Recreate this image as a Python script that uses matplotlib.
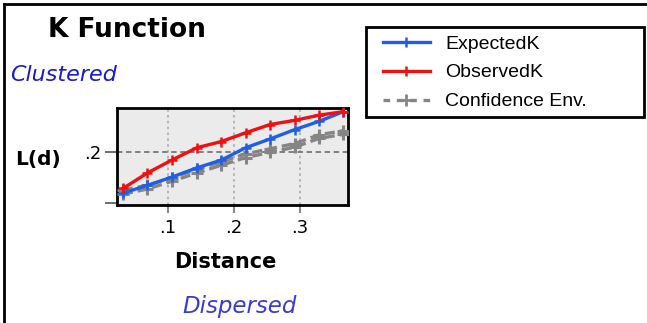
import matplotlib.pyplot as plt
from matplotlib.lines import Line2D
from matplotlib.patches import Rectangle

distance = [0.032, 0.069, 0.106, 0.144, 0.181, 0.218, 0.255, 0.292, 0.329, 0.366]
observed_k = [0.129, 0.159, 0.184, 0.208, 0.220, 0.237, 0.253, 0.261, 0.271, 0.278]
expected_k = [0.120, 0.135, 0.151, 0.169, 0.184, 0.208, 0.225, 0.243, 0.259, 0.278]
conf_upper = [0.126, 0.135, 0.150, 0.166, 0.181, 0.196, 0.206, 0.216, 0.233, 0.241]
conf_lower = [0.118, 0.128, 0.143, 0.159, 0.174, 0.189, 0.199, 0.209, 0.226, 0.234]

x_ticks = [0.1, 0.2, 0.3]
x_labels = ['.1', '.2', '.3']
y_ticks = [0.1, 0.2]
y_labels = ['', '.2']

W, H = 647, 323
fig = plt.figure(figsize=(W / 100, H / 100), dpi=100)
fig.patch.set_facecolor('white')

ax = fig.add_axes([117 / W, 1 - 205 / H, 231 / W, 97 / H])
ax.set_facecolor('#ebebeb')

blue = '#1f5fe6'
red = '#ee1111'
gray = '#858585'

ax.plot(distance, conf_lower, color=gray, lw=2.4, ls=(0, (3, 1.5)), marker='+', ms=8, mew=2.2, zorder=3)
ax.plot(distance, conf_upper, color=gray, lw=2.4, ls=(0, (3, 1.5)), marker='+', ms=8, mew=2.2, zorder=3)
ax.plot(distance, expected_k, color=blue, lw=2.4, marker='+', ms=7, mew=1.8, zorder=4)
ax.plot(distance, observed_k, color=red, lw=2.4, marker='+', ms=7, mew=1.8, zorder=5)

ax.set_xlim(0.023, 0.373)
ax.set_ylim(0.097, 0.285)
ax.set_xticks(x_ticks)
ax.set_xticklabels(x_labels, fontsize=13)
ax.set_yticks(y_ticks)
ax.set_yticklabels(y_labels, fontsize=13)
ax.tick_params(axis='x', length=6, width=1.5, color='#888888', pad=4)
ax.tick_params(axis='y', length=9, width=1.2, color='#555555', pad=2)

for x in x_ticks:
    ax.axvline(x, color='#aaaaaa', lw=1.2, ls=(0, (1.5, 2)), zorder=1)
ax.axhline(0.2, color='#777777', lw=1.3, ls=(0, (3, 2)), zorder=1)

for s in ax.spines.values():
    s.set_linewidth(2)
    s.set_color('black')

fig.text(127 / W, 1 - 30 / H, 'K Function', fontsize=19, fontweight='bold', ha='center', va='center')
fig.text(10 / W, 1 - 75 / H, 'Clustered', fontsize=16, style='italic', color='#1a1ad0', ha='left', va='center')
fig.text(15 / W, 1 - 160 / H, 'L(d)', fontsize=14.5, fontweight='bold', ha='left', va='center')
fig.text(225 / W, 1 - 262 / H, 'Distance', fontsize=15, fontweight='bold', ha='center', va='center')
fig.text(240 / W, 1 - 307 / H, 'Dispersed', fontsize=16.5, style='italic', color='#3a3ad8', ha='center', va='center')

# figure frame (top and left)
fig.add_artist(Line2D([4 / W, 1], [1 - 4 / H, 1 - 4 / H], color='black', lw=2))
fig.add_artist(Line2D([4 / W, 4 / W], [0, 1 - 4 / H], color='black', lw=2))

# legend box
fig.add_artist(Rectangle((366 / W, 1 - 117 / H), 278 / W, 90 / H, transform=fig.transFigure,
                         facecolor='white', edgecolor='black', lw=2, zorder=2))

handles = [
    Line2D([], [], color=blue, lw=2.4, marker='+', ms=7, mew=1.8),
    Line2D([], [], color=red, lw=2.4, marker='+', ms=7, mew=1.8),
    Line2D([], [], color=gray, lw=2.4, ls=(0, (2, 2)), marker='+', ms=8, mew=2),
]
leg = fig.legend(handles, ['ExpectedK', 'ObservedK', 'Confidence Env.'],
                 loc='upper left', bbox_to_anchor=(383 / W, 1 - 35 / H),
                 prop={'family': 'Liberation Sans', 'size': 14},
                 frameon=False, handlelength=2.4, handletextpad=0.8,
                 labelspacing=0.58, borderpad=0, borderaxespad=0)
leg.set_zorder(3)

fig.savefig('out.png', dpi=100)
